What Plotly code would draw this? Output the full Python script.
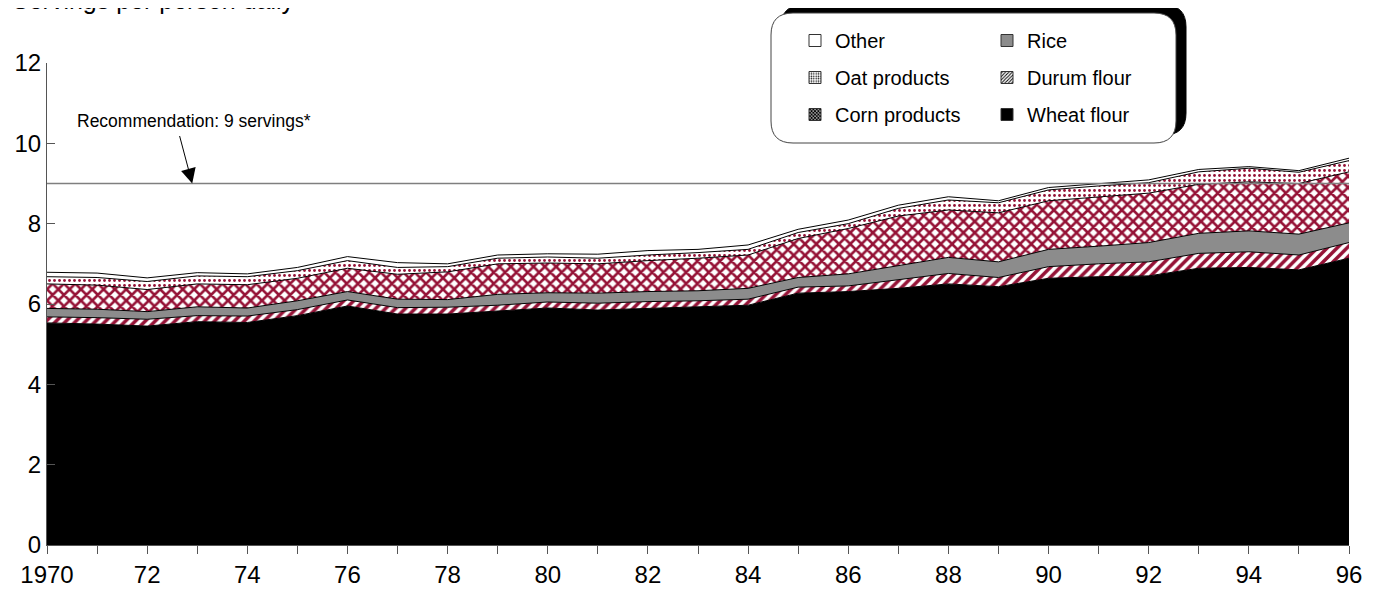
import plotly.graph_objects as go

years = list(range(1970, 1997))

wheat_flour = [5.53, 5.50, 5.45, 5.56, 5.54, 5.71, 5.95, 5.75, 5.75, 5.83, 5.90, 5.85, 5.89, 5.93,
               5.97, 6.27, 6.31, 6.39, 6.50, 6.43, 6.64, 6.68, 6.70, 6.89, 6.91, 6.85, 7.14]
durum_flour = [0.15, 0.16, 0.17, 0.15, 0.16, 0.15, 0.15, 0.16, 0.17, 0.14, 0.15, 0.17, 0.17, 0.15,
               0.15, 0.15, 0.14, 0.21, 0.26, 0.23, 0.29, 0.32, 0.35, 0.37, 0.39, 0.37, 0.39]
rice = [0.21, 0.21, 0.19, 0.22, 0.20, 0.22, 0.21, 0.21, 0.19, 0.27, 0.23, 0.25, 0.25, 0.25,
        0.27, 0.24, 0.30, 0.35, 0.40, 0.39, 0.43, 0.44, 0.48, 0.50, 0.52, 0.52, 0.49]
corn_products = [0.61, 0.60, 0.55, 0.57, 0.58, 0.56, 0.58, 0.62, 0.69, 0.76, 0.74, 0.73, 0.77, 0.81,
                 0.83, 0.97, 1.13, 1.24, 1.18, 1.22, 1.21, 1.23, 1.23, 1.22, 1.22, 1.26, 1.27]
oat_products = [0.18, 0.19, 0.20, 0.20, 0.20, 0.19, 0.19, 0.17, 0.13, 0.14, 0.15, 0.14, 0.14, 0.14,
                0.14, 0.15, 0.12, 0.19, 0.25, 0.25, 0.27, 0.27, 0.26, 0.31, 0.34, 0.28, 0.28]
other = [0.11, 0.11, 0.09, 0.08, 0.07, 0.08, 0.10, 0.12, 0.07, 0.08, 0.08, 0.10, 0.11, 0.08,
         0.11, 0.08, 0.09, 0.08, 0.08, 0.05, 0.06, 0.06, 0.07, 0.06, 0.04, 0.04, 0.06]

recommendation = 9
tick_years = list(range(1970, 1997))
tick_text = ["1970" if y == 1970 else (str(y)[2:] if y % 2 == 0 else "") for y in tick_years]

RED = "#951236"
OFF = 8  # page body margin
W, H = 1377 - OFF, 592 - OFF
L, R, T, B = 47 - OFF, 28, 63 - OFF, 47
PW, PH = W - L - R, H - T - B


def px(x, y):
    # page pixel -> paper coords
    x, y = x - OFF, y - OFF
    return (x - L) / PW, (H - B - y) / PH


def rounded_rect(x0, y0, x1, y1, r):
    pts = []
    a = px(x0 + r, y0); pts.append(f"M{a[0]},{a[1]}")
    a = px(x1 - r, y0); pts.append(f"L{a[0]},{a[1]}")
    c = px(x1, y0); e = px(x1, y0 + r); pts.append(f"Q{c[0]},{c[1]} {e[0]},{e[1]}")
    a = px(x1, y1 - r); pts.append(f"L{a[0]},{a[1]}")
    c = px(x1, y1); e = px(x1 - r, y1); pts.append(f"Q{c[0]},{c[1]} {e[0]},{e[1]}")
    a = px(x0 + r, y1); pts.append(f"L{a[0]},{a[1]}")
    c = px(x0, y1); e = px(x0, y1 - r); pts.append(f"Q{c[0]},{c[1]} {e[0]},{e[1]}")
    a = px(x0, y0 + r); pts.append(f"L{a[0]},{a[1]}")
    c = px(x0, y0); e = px(x0 + r, y0); pts.append(f"Q{c[0]},{c[1]} {e[0]},{e[1]}")
    pts.append("Z")
    return " ".join(pts)


def pat(shape, fg, size, solidity):
    return dict(shape=shape, fgcolor=fg, bgcolor="white", size=size, solidity=solidity,
                fgopacity=1, fillmode="replace")


fig = go.Figure()

layers = [
    ("Wheat flour", wheat_flour, dict(fillcolor="black")),
    ("Durum flour", durum_flour, dict(fillcolor="white", fillpattern=pat("/", RED, 7, 0.5))),
    ("Rice", rice, dict(fillcolor="#8c8c8c")),
    ("Corn products", corn_products, dict(fillcolor="white", fillpattern=pat("x", RED, 8, 0.55))),
    ("Oat products", oat_products, dict(fillcolor="white", fillpattern=pat(".", RED, 5, 0.25))),
    ("Other", other, dict(fillcolor="white")),
]

for name, vals, style in layers:
    fig.add_trace(go.Scatter(
        x=years, y=vals, name=name, stackgroup="grains", mode="lines",
        line=dict(color="black", width=1), showlegend=False, **style
    ))

# legend swatches (black patterns like the printed key)
legend_items = [
    ("Other", "legend", dict(color="white")),
    ("Oat products", "legend", dict(color="white", pattern=pat(".", "black", 3, 0.3))),
    ("Corn products", "legend", dict(color="white", pattern=pat("x", "black", 3, 0.7))),
    ("Rice", "legend2", dict(color="#8c8c8c")),
    ("Durum flour", "legend2", dict(color="white", pattern=pat("/", "black", 3, 0.4))),
    ("Wheat flour", "legend2", dict(color="black")),
]
for name, lg, mk in legend_items:
    mk["line"] = dict(color="#333333", width=1)
    fig.add_trace(go.Bar(x=[None], y=[None], name=name, legend=lg, legendgroup=name,
                         marker=mk, showlegend=True))

fig.add_hline(y=recommendation, line_color="#7f7f7f", line_width=1.5, layer="above")

fig.add_annotation(x=1972.9, y=recommendation, ax=-13, ay=-49, text="", showarrow=True,
                   arrowhead=2, arrowsize=3, arrowwidth=1, arrowcolor="black")
fig.add_annotation(x=1972.94, y=10.56, text="Recommendation: 9 servings*", showarrow=False,
                   xanchor="center", yanchor="middle", font=dict(size=17.5, color="black"))

fig.add_annotation(xref="paper", yref="paper", x=px(10, 0)[0], y=px(0, 16)[1],
                   xanchor="left", yanchor="bottom", showarrow=False,
                   text="Servings per person daily", font=dict(size=25, color="black"))

# legend frame with offset black shadow
fig.add_shape(type="path", xref="paper", yref="paper", layer="below",
              path=rounded_rect(781, 5, 1186, 135, 22),
              fillcolor="black", line=dict(color="black", width=1))
fig.add_shape(type="path", xref="paper", yref="paper", layer="below",
              path=rounded_rect(771, 13, 1176, 143, 22),
              fillcolor="white", line=dict(color="#444444", width=1))

fig.update_layout(
    width=W, height=H,
    margin=dict(l=L, r=R, t=T, b=B, pad=0, autoexpand=False),
    paper_bgcolor="white", plot_bgcolor="rgba(0,0,0,0)",
    font=dict(family="Liberation Sans, Arial, sans-serif", color="black"),
    legend=dict(x=px(795, 0)[0], y=px(0, 21)[1], xanchor="left", yanchor="top",
                bgcolor="rgba(0,0,0,0)", borderwidth=0, font=dict(size=20),
                tracegroupgap=8, traceorder="grouped"),
    legend2=dict(x=px(987, 0)[0], y=px(0, 21)[1], xanchor="left", yanchor="top",
                 bgcolor="rgba(0,0,0,0)", borderwidth=0, font=dict(size=20),
                 tracegroupgap=8, traceorder="grouped"),
)

fig.update_xaxes(range=[1970, 1996], tickvals=tick_years, ticktext=tick_text,
                 ticks="outside", ticklen=8, tickcolor="#555555", tickwidth=1,
                 showline=True, linecolor="#555555", linewidth=1, showgrid=False, zeroline=False,
                 tickfont=dict(size=24), automargin=False)
fig.update_yaxes(range=[0, 12], tickvals=[0, 2, 4, 6, 8, 10, 12],
                 ticks="inside", ticklen=8, tickcolor="#555555", tickwidth=1,
                 showline=True, linecolor="#555555", linewidth=1, showgrid=False, zeroline=False,
                 tickfont=dict(size=24), automargin=False)

fig.write_html("out.html")
